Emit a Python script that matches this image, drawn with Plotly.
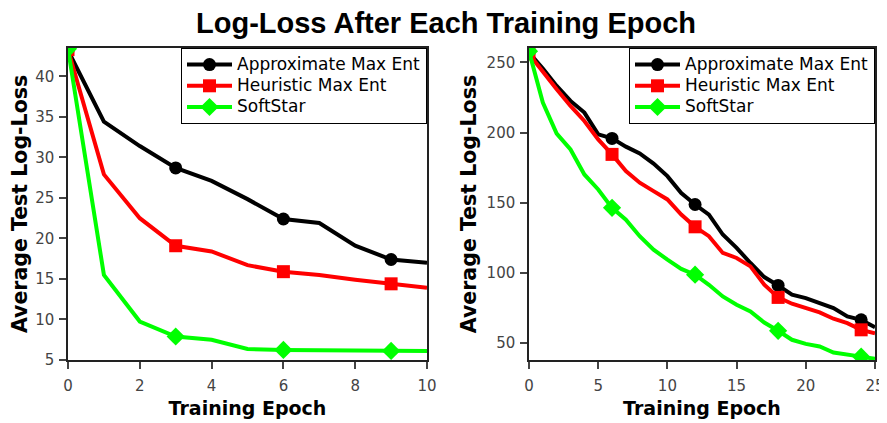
import plotly.graph_objects as go

# ---- data ----
left_epochs = list(range(0, 11))
left_approx = [43.2, 34.4, 31.4, 28.7, 27.1, 24.85, 22.4, 21.9, 19.1, 17.4, 17.0]
left_heur = [43.3, 27.9, 22.5, 19.1, 18.4, 16.7, 15.9, 15.5, 14.9, 14.4, 13.9]
left_soft = [43.4, 15.5, 9.75, 7.9, 7.5, 6.36, 6.24, 6.2, 6.15, 6.12, 6.1]
left_marker_epochs = [0, 3, 6, 9]

right_epochs = list(range(0, 26))
right_approx = [257, 245.7, 233.3, 222.6, 214.3, 198.8, 195.9, 190, 185.2, 178, 169, 157,
                148.8, 141.6, 127.4, 117.9, 107.1, 97.1, 91.1, 84.5, 82.1, 78.6, 75, 69,
                66.6, 61.4]
right_heur = [256, 242.9, 230.9, 219.0, 208.3, 195.2, 184.5, 172.6, 164.3, 158.3, 152.4, 141.6,
              132.9, 126.2, 114.3, 110.7, 104.7, 91.6, 82.6, 78.1, 75, 71.9, 67.4, 64.3,
              59.5, 57.1]
right_soft = [258, 221.4, 199.3, 188, 170.2, 159.5, 146.4, 138, 126.2, 116.6, 109.5, 102.9,
              98.8, 91.6, 83.3, 77.4, 72.6, 64.7, 58.8, 52.4, 49.5, 47.6, 43.3, 42.1,
              40.4, 38.8]
right_marker_epochs = [0, 6, 12, 18, 24]

series_names = ["Approximate Max Ent", "Heuristic Max Ent", "SoftStar"]
colors = ["#000000", "#ff0000", "#00ff00"]
symbols = ["circle", "square", "diamond"]
msizes = [13, 13, 14]

left_x_ticks = [0, 2, 4, 6, 8, 10]
left_y_ticks = [5, 10, 15, 20, 25, 30, 35, 40]
right_x_ticks = [0, 5, 10, 15, 20, 25]
right_y_ticks = [50, 100, 150, 200, 250]

title_text = "Log-Loss After Each Training Epoch"
x_title = "Training Epoch"
y_title = "Average Test Log-Loss"

fig = go.Figure()

def add_panel(xs, ys_list, mark_epochs, xaxis, yaxis, legend):
    for name, ys, c, sym, ms in zip(series_names, ys_list, colors, symbols, msizes):
        fig.add_trace(go.Scatter(x=xs, y=ys, mode="lines", line=dict(color=c, width=4),
                                 xaxis=xaxis, yaxis=yaxis, showlegend=False, hoverinfo="skip"))
        mx = [xs[i] for i in range(len(xs)) if xs[i] in mark_epochs]
        my = [ys[i] for i in range(len(xs)) if xs[i] in mark_epochs]
        fig.add_trace(go.Scatter(x=mx, y=my, mode="markers",
                                 marker=dict(color=c, symbol=sym, size=ms, line=dict(width=0)),
                                 xaxis=xaxis, yaxis=yaxis, showlegend=False))
    for name, c, sym, ms in zip(series_names, colors, symbols, msizes):
        fig.add_trace(go.Scatter(x=[None], y=[None], mode="lines+markers",
                                 name='<span style="font-size:17px">' + name + '</span>',
                                 line=dict(color=c, width=4),
                                 marker=dict(color=c, symbol=sym, size=ms),
                                 xaxis=xaxis, yaxis=yaxis, legend=legend))

add_panel(left_epochs, [left_approx, left_heur, left_soft], left_marker_epochs, "x", "y", "legend")
add_panel(right_epochs, [right_approx, right_heur, right_soft], right_marker_epochs, "x2", "y2", "legend2")

# page has an 8px body margin, so the figure is sized/placed to compensate
W, H = 879, 415
ml, mr, mt, mb = 60, 12, 40, 63
pw = W - ml - mr
d1 = [0, (419 - ml) / pw]
d2 = [(521 - ml) / pw, 1]

tickfont = dict(family="DejaVu Sans", size=15, color="#444")
xtitlefont = dict(family="DejaVu Sans", size=19, color="#000")
ytitlefont = dict(family="DejaVu Sans", size=20.5, color="#000")
axcommon = dict(showline=True, mirror=True, linecolor="#222", linewidth=1.5,
                ticks="outside", ticklen=7, tickcolor="#444", tickwidth=1.5,
                showgrid=False, zeroline=False, tickfont=tickfont, automargin=False)

legfont = dict(family="DejaVu Sans", size=14, color="#000")

fig.update_layout(
    width=W, height=H,
    margin=dict(l=ml, r=mr, t=mt, b=mb, autoexpand=False),
    paper_bgcolor="white", plot_bgcolor="white",
    title=dict(text="<b>" + title_text + "</b>", x=438 / W, xanchor="center",
               y=1 - 15 / H, yanchor="middle", automargin=False,
               font=dict(family="Liberation Sans", size=29, color="#000")),
    xaxis=dict(domain=d1, range=[0, 10], tickvals=left_x_ticks, ticklabelstandoff=4,
               title=dict(text="<b>" + x_title + "</b>", font=xtitlefont, standoff=8), **axcommon),
    yaxis=dict(domain=[0, 1], range=[5, 43.5], tickvals=left_y_ticks, ticklabelstandoff=2,
               title=dict(text="<b>" + y_title + "</b>", font=ytitlefont, standoff=4), **axcommon),
    xaxis2=dict(domain=d2, range=[0, 25], tickvals=right_x_ticks, anchor="y2", ticklabelstandoff=4,
                title=dict(text="<b>" + x_title + "</b>", font=xtitlefont, standoff=8), **axcommon),
    yaxis2=dict(domain=[0, 1], range=[38, 260.3], tickvals=right_y_ticks, anchor="x2",
                ticklabelstandoff=2,
                title=dict(text="<b>" + y_title + "</b>", font=ytitlefont, standoff=4), **axcommon),
    legend=dict(x=d1[1], xanchor="right", y=1, yanchor="top", bgcolor="white",
                bordercolor="#000", borderwidth=1, itemwidth=45,
                font=legfont, tracegroupgap=0),
    legend2=dict(x=1, xanchor="right", y=1, yanchor="top", bgcolor="white",
                 bordercolor="#000", borderwidth=1, itemwidth=45,
                 font=legfont, tracegroupgap=0),
)

fig.write_html("out.html")
